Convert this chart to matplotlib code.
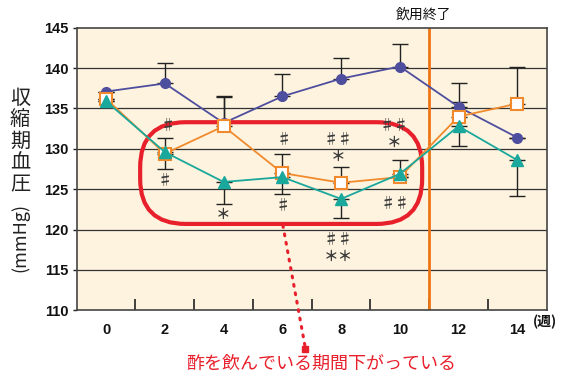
import matplotlib
matplotlib.use("Agg")
import matplotlib.pyplot as plt
from matplotlib.patches import FancyBboxPatch

plt.rcParams['font.family'] = ['Noto Sans CJK JP', 'DejaVu Sans']

weeks = [0, 2, 4, 6, 8, 10, 12, 14]
blue_vals = [137.1, 138.1, 133.2, 136.5, 138.7, 140.2, 135.2, 131.4]
blue_up = [0, 2.5, 3.4, 2.8, 2.5, 2.8, 3.0, 0]
orange_vals = [136.2, 129.4, 132.8, 127.0, 125.8, 126.5, 134.0, 135.6]
orange_up = [0, 2.0, 3.6, 2.3, 1.9, 0, 1.8, 4.5]
teal_vals = [135.9, 129.6, 125.9, 126.5, 123.8, 126.9, 132.8, 128.6]
teal_low = [0, 2.1, 2.7, 2.1, 2.4, 0, 2.4, 4.4]
teal_up = [0, 0, 0, 0, 0, 1.7, 0, 0]

# significance marks: (x, y, text)
marks = [
    (2.1, 132.9, "♯"), (2.0, 126.1, "♯"),
    (4.0, 122.0, "＊"),
    (6.05, 131.2, "♯"), (6.0, 123.0, "♯"),
    (7.9, 130.2, "♯♯\n＊"),
    (7.9, 117.8, "♯♯\n＊＊"),
    (9.8, 131.9, "♯♯\n＊"), (9.85, 123.3, "♯♯"),
]

c_blue = "#4e4e9e"
c_orange = "#f08a2c"
c_teal = "#19a89b"
c_red = "#e8202c"
c_vline = "#ee7414"

fig = plt.figure(figsize=(5.62, 3.75), dpi=100)
ax = fig.add_axes([0.1365, 0.1725, 0.8363, 0.7535])
ax.set_facecolor("#fef3df")
ax.set_xlim(-1, 15)
ax.set_ylim(110, 145)

for v in range(115, 145, 5):
    ax.axhline(v, color="#333333", lw=0.9, zorder=1)

ax.axvline(11, color=c_vline, lw=2, zorder=2)

ekw = dict(fmt="none", ecolor="#222222", elinewidth=1.0, capsize=5.5, capthick=1.0, zorder=3)
ax.errorbar(weeks, blue_vals, yerr=[[0]*8, blue_up], **ekw)
ax.errorbar(weeks, orange_vals, yerr=[[0]*8, orange_up], **ekw)
ax.errorbar(weeks, teal_vals, yerr=[teal_low, teal_up], **ekw)

ax.plot(weeks, blue_vals, color=c_blue, lw=1.3, marker="o", ms=7, mfc=c_blue, mec=c_blue, zorder=5)
ax.plot(weeks, orange_vals, color=c_orange, lw=1.3, marker="s", ms=9, mfc="white", mec=c_orange, mew=1.5, zorder=5)
ax.plot(weeks, teal_vals, color=c_teal, lw=1.3, marker="^", ms=8.5, mfc=c_teal, mec=c_teal, zorder=6)

for x, y, t in marks:
    ax.text(x, y, t, ha="center", va="center", fontsize=10.5, fontweight="bold",
            color="#3a3a3a", linespacing=1.1, zorder=7)

# red rounded rectangle
box = FancyBboxPatch((1.16, 120.7), 10.76 - 1.16, 133.3 - 120.7,
                     boxstyle="round,pad=0,rounding_size=1.55", mutation_aspect=3.6,
                     fill=False, ec=c_red, lw=3, zorder=4)
ax.add_patch(box)

# dotted pointer
ax.plot([6.02, 6.78], [120.5, 105.4], color=c_red, lw=2.2, ls=(0, (0.6, 2.2)),
        dash_capstyle="round", clip_on=False, zorder=8)
ax.plot([6.78], [105.2], marker="s", ms=4, color=c_red, clip_on=False, zorder=8)

ax.set_xticks([1, 3, 5, 7, 9, 11, 13])
ax.set_xticklabels([])
ax.tick_params(axis="x", direction="in", length=8, width=1.2, color="#222222")
ax.set_xticks(weeks, minor=True)
ax.set_xticklabels([str(w) for w in weeks], minor=True)
ax.tick_params(axis="x", which="minor", length=0, pad=9)
ax.set_yticks(range(110, 146, 5))
ax.tick_params(axis="y", direction="out", length=3, width=1, color="#222222", pad=3)
for lab in ax.get_xticklabels(minor=True) + ax.get_yticklabels():
    lab.set_fontfamily(["Liberation Sans"])
    lab.set_fontweight("bold")
    lab.set_fontsize(10.5)
    lab.set_color("#111111")

for s in ax.spines.values():
    s.set_color("#444444")
    s.set_linewidth(1.2)

W, H = 562, 375
def fx(px):
    return px / W
def fy(py):
    return 1 - py / H

fig.text(fx(423), fy(15), "飲用終了", ha="center", va="center", fontsize=10, color="#111111")
fig.text(fx(545), fy(322), "(週)", ha="center", va="center", fontsize=10, fontweight="bold", color="#111111")
fig.text(fx(321), fy(364), "酢を飲んでいる期間下がっている", ha="center", va="center",
         fontsize=13, color=c_red)

for i, ch in enumerate("収縮期血圧"):
    fig.text(fx(20), fy(99 + 21.4 * i), ch, ha="center", va="center", fontsize=14.5, color="#222222")
fig.text(fx(20), fy(238), "(mmHg)", ha="center", va="center", rotation=90, fontsize=13, color="#222222")

fig.savefig("out.png", dpi=100, facecolor="white")
